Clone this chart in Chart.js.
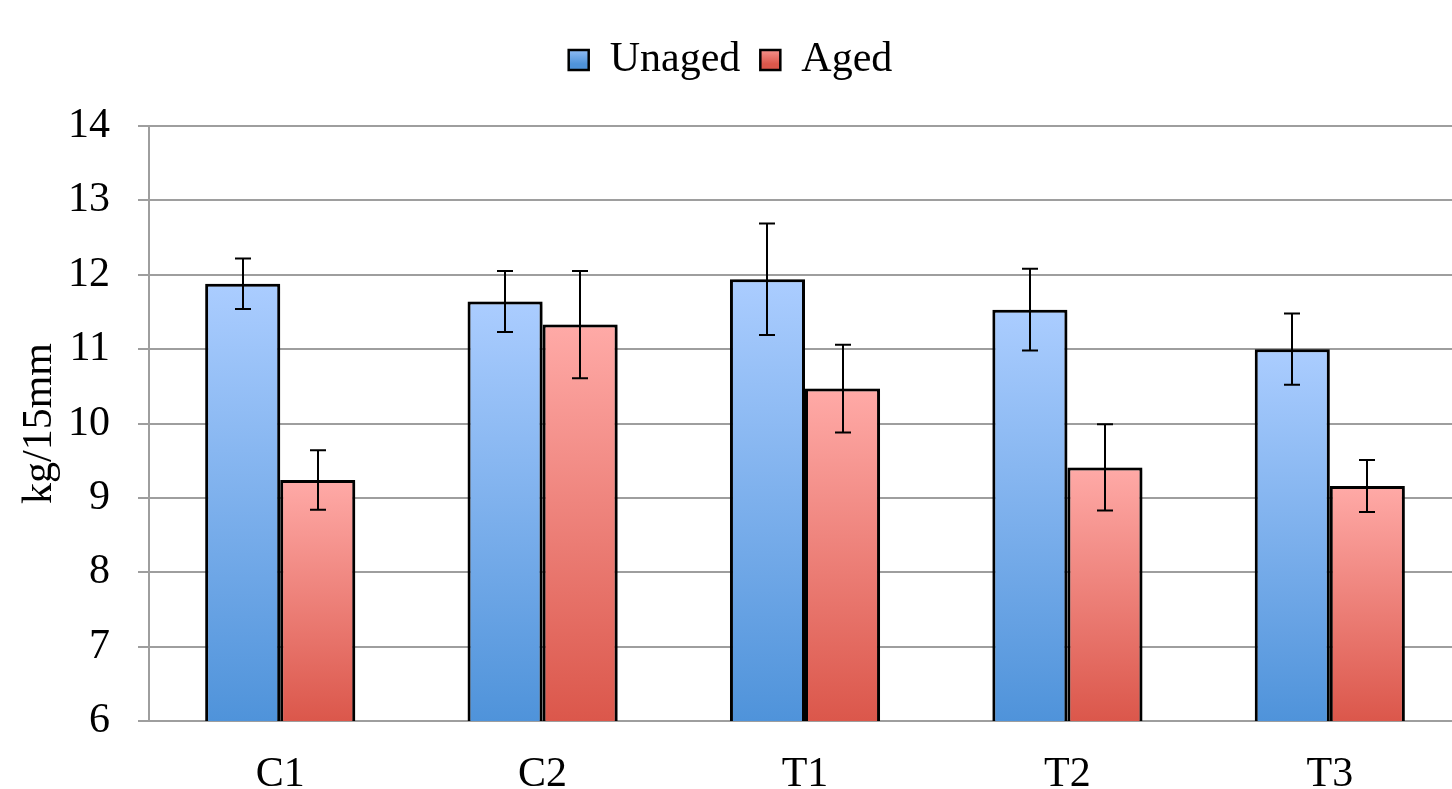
<!DOCTYPE html>
<html>
<head>
<meta charset="utf-8">
<script src="https://cdn.jsdelivr.net/npm/chart.js@4"></script>
<style>
html,body{margin:0;padding:0;background:#fff;overflow:hidden;width:1452px;height:789px;}
#wrap{position:absolute;left:0;top:0;width:1461px;height:812px;}
</style>
</head>
<body>
<div id="wrap"><canvas id="c" width="1461" height="812"></canvas></div>
<script>
const categories = ['C1', 'C2', 'T1', 'T2', 'T3'];
const seriesNames = ['Unaged', 'Aged'];
const unaged = [11.88, 11.64, 11.94, 11.53, 11.00];
const unagedErr = [0.34, 0.41, 0.75, 0.55, 0.48];
const aged = [9.24, 11.33, 10.47, 9.41, 9.16];
const agedErr = [0.40, 0.72, 0.59, 0.58, 0.35];
const yTicks = [6, 7, 8, 9, 10, 11, 12, 13, 14];
const yTitle = 'kg/15mm';

const FONT = "'Liberation Serif', 'Times New Roman', serif";
const blueStops = ['#abcdff', '#4f93da'];
const redStops = ['#ffaaa7', '#db574b'];

function barGradient(ctx, stops) {
  const chart = ctx.chart;
  if (!chart.chartArea || ctx.raw === undefined) return stops[0];
  const ys = chart.scales.y;
  const top = ys.getPixelForValue(ctx.raw);
  const bottom = ys.getPixelForValue(ys.min);
  const g = chart.ctx.createLinearGradient(0, top, 0, bottom);
  g.addColorStop(0, stops[0]);
  g.addColorStop(1, stops[1]);
  return g;
}

const errorBars = {
  id: 'errorBars',
  beforeDatasetsDraw(chart) {
    const c = chart.ctx;
    c.save();
    c.shadowColor = 'rgba(0,0,0,0.35)';
    c.shadowBlur = 5;
    c.shadowOffsetX = 2;
    c.shadowOffsetY = 1;
  },
  afterDatasetsDraw(chart) {
    const c = chart.ctx;
    c.restore();
    const ys = chart.scales.y;
    c.save();
    c.strokeStyle = '#000';
    c.lineWidth = 2;
    chart.data.datasets.forEach((ds, di) => {
      const meta = chart.getDatasetMeta(di);
      meta.data.forEach((el, i) => {
        const v = ds.data[i], e = ds.errors[i];
        const yt = ys.getPixelForValue(v + e);
        const yb = ys.getPixelForValue(v - e);
        const x = Math.round(el.x);
        c.beginPath();
        c.moveTo(x, yt); c.lineTo(x, yb);
        c.moveTo(x - 8, yt); c.lineTo(x + 8, yt);
        c.moveTo(x - 8, yb); c.lineTo(x + 8, yb);
        c.stroke();
      });
    });
    c.restore();
  }
};

const ctx = document.getElementById('c').getContext('2d');
const legendGrad = (stops) => {
  const g = ctx.createLinearGradient(0, 44, 0, 64);
  g.addColorStop(0, stops[0]);
  g.addColorStop(1, stops[1]);
  return g;
};

new Chart(ctx, {
  type: 'bar',
  data: {
    labels: categories,
    datasets: [
      {
        label: seriesNames[0],
        data: unaged,
        errors: unagedErr,
        backgroundColor: (c) => barGradient(c, blueStops),
        borderColor: '#000',
        borderWidth: 3,
        borderSkipped: false,
        categoryPercentage: 0.572,
        barPercentage: 1.0,
        legendStops: blueStops
      },
      {
        label: seriesNames[1],
        data: aged,
        errors: agedErr,
        backgroundColor: (c) => barGradient(c, redStops),
        borderColor: '#000',
        borderWidth: 3,
        borderSkipped: false,
        categoryPercentage: 0.572,
        barPercentage: 1.0,
        legendStops: redStops
      }
    ]
  },
  plugins: [errorBars],
  options: {
    responsive: false,
    animation: false,
    events: [],
    layout: { padding: { top: 19, left: 0, right: 0, bottom: 0 } },
    plugins: {
      tooltip: { enabled: false },
      subtitle: {
        display: true,
        text: '',
        position: 'top',
        weight: 500,
        font: { size: 10 },
        padding: { top: 0, bottom: 23 }
      },
      legend: {
        display: true,
        position: 'top',
        align: 'center',
        labels: {
          font: { family: FONT, size: 42 },
          color: '#000',
          boxWidth: 20,
          boxHeight: 20,
          padding: 20,
          generateLabels(chart) {
            return chart.data.datasets.map((ds, i) => ({
              text: ds.label,
              fillStyle: legendGrad(ds.legendStops),
              strokeStyle: '#000',
              lineWidth: 2.5,
              fontColor: '#000',
              datasetIndex: i,
              hidden: false
            }));
          }
        }
      }
    },
    scales: {
      x: {
        grid: { display: false, drawTicks: false },
        border: { display: false },
        afterFit(axis) { axis.height = 91; },
        ticks: {
          font: { family: FONT, size: 42 },
          color: '#000',
          padding: 29
        }
      },
      y: {
        min: 6,
        max: 14,
        afterBuildTicks(axis) { axis.ticks = yTicks.map(v => ({ value: v })); },
        afterFit(axis) { axis.width = 149; },
        grid: { color: '#9e9e9e', lineWidth: 2, tickLength: 11, drawTicks: true },
        border: { display: true, color: '#9e9e9e', width: 2 },
        ticks: {
          font: { family: FONT, size: 42 },
          color: '#000',
          padding: 28
        },
        title: {
          display: true,
          text: yTitle,
          font: { family: FONT, size: 42 },
          color: '#000',
          padding: { top: 15, bottom: 3 }
        }
      }
    }
  }
});
</script>
</body>
</html>
